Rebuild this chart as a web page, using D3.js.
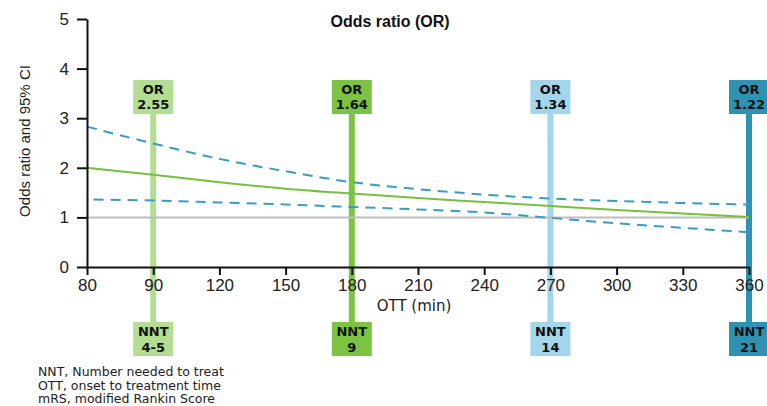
<!DOCTYPE html>
<html>
<head>
<meta charset="utf-8">
<title>Odds ratio (OR)</title>
<script src="https://d3js.org/d3.v7.min.js"></script>
<style>
body { margin: 0; background: #fff; }
svg { font-family: "Liberation Sans", Arial, sans-serif; }
.axis path, .axis line { stroke: #111; stroke-width: 2px; }
.axis text { font-size: 17px; fill: #222; }
.box text { font-family: "DejaVu Sans", sans-serif; font-size: 13px; font-weight: bold; fill: #111; }
</style>
</head>
<body>
<svg width="767" height="406"></svg>
<script>
// tick values on the OTT axis (evenly spaced, not proportional)
var xTicks = [80, 90, 120, 150, 180, 210, 240, 270, 300, 330, 360];
var yTicks = [0, 1, 2, 3, 4, 5];

// OR curve and 95% CI bounds
var orX = [80, 90, 120, 150, 180, 210, 240, 270, 300, 330, 360];
var orVal = [2.00, 1.86, 1.71, 1.58, 1.48, 1.39, 1.31, 1.23, 1.15, 1.08, 1.01];
var upperX = [80, 90, 120, 150, 180, 210, 240, 270, 300, 330, 360];
var upperVal = [2.83, 2.49, 2.18, 1.93, 1.71, 1.57, 1.46, 1.38, 1.33, 1.29, 1.26];
var lowerX = [81, 90, 120, 150, 180, 210, 240, 270, 300, 330, 360];
var lowerVal = [1.36, 1.34, 1.30, 1.26, 1.21, 1.16, 1.10, 0.99, 0.88, 0.79, 0.70];

// highlighted time points
var markTimes = [90, 180, 270, 360];
var markOR = ["2.55", "1.64", "1.34", "1.22"];
var markNNT = ["4-5", "9", "14", "21"];
var markColors = ["#b2dd92", "#7cc243", "#a3d6ea", "#2e92b3"];

var notes = [
  "NNT, Number needed to treat",
  "OTT, onset to treatment time",
  "mRS, modified Rankin Score"
];

var svg = d3.select("svg"),
    margin = {top: 19, left: 87},
    width = 662,
    height = 248,
    g = svg.append("g").attr("transform", "translate(" + margin.left + "," + margin.top + ")");

var step = width / (xTicks.length - 1);
var x = d3.scaleLinear()
    .domain(xTicks)
    .range(xTicks.map(function(d, i) { return i * step; }));

var y = d3.scaleLinear()
    .domain([0, 5])
    .range([height, 0]);

// title
svg.append("text")
    .attr("x", 390)
    .attr("y", 27)
    .attr("text-anchor", "middle")
    .style("font-size", "16px")
    .style("font-weight", "bold")
    .style("fill", "#111")
    .text("Odds ratio (OR)");

// vertical marker bars
var boxW = 40, boxTop = 61, boxH = 34, nntTop = 303, nntH = 34;
markTimes.forEach(function(t, i) {
  g.append("line")
      .attr("x1", x(t)).attr("x2", x(t))
      .attr("y1", boxTop).attr("y2", nntTop)
      .attr("stroke", markColors[i])
      .attr("stroke-width", 6);
});

// reference line at OR = 1
g.append("line")
    .attr("x1", 0).attr("x2", width)
    .attr("y1", y(1)).attr("y2", y(1))
    .attr("stroke", "#bdbdbd")
    .attr("stroke-width", 2);

var line = d3.line()
    .x(function(d) { return x(d[0]); })
    .y(function(d) { return y(d[1]); })
    .curve(d3.curveMonotoneX);

// CI bounds
[[upperX, upperVal], [lowerX, lowerVal]].forEach(function(s) {
  g.append("path")
      .datum(d3.zip(s[0], s[1]))
      .attr("fill", "none")
      .attr("stroke", "#3a9bc3")
      .attr("stroke-width", 2)
      .attr("stroke-dasharray", "10,7")
      .attr("d", line);
});

// OR curve
g.append("path")
    .datum(d3.zip(orX, orVal))
    .attr("fill", "none")
    .attr("stroke", "#76bf3f")
    .attr("stroke-width", 2)
    .attr("d", line);

// axes
g.append("g")
    .attr("class", "axis")
    .attr("transform", "translate(0," + height + ")")
    .call(d3.axisBottom(x).tickValues(xTicks).tickSize(8).tickPadding(4).tickSizeOuter(0).tickFormat(d3.format("d")));

g.append("g")
    .attr("class", "axis")
    .call(d3.axisLeft(y).tickValues(yTicks).tickSize(10).tickPadding(8).tickSizeOuter(0).tickFormat(d3.format("d")));

// axis titles
svg.append("text")
    .attr("transform", "translate(30," + 141 + ") rotate(-90)")
    .attr("text-anchor", "middle")
    .style("font-size", "15px")
    .style("fill", "#222")
    .text("Odds ratio and 95% CI");

svg.append("text")
    .attr("x", 414)
    .attr("y", 311)
    .attr("text-anchor", "middle")
    .style("font-family", "'DejaVu Sans', sans-serif")
    .style("font-size", "15px")
    .style("fill", "#222")
    .text("OTT (min)");

// OR and NNT boxes
markTimes.forEach(function(t, i) {
  var cx = x(t);
  var top = g.append("g").attr("class", "box").attr("transform", "translate(" + cx + "," + boxTop + ")");
  top.append("rect")
      .attr("x", -boxW / 2).attr("width", boxW).attr("height", boxH)
      .attr("fill", markColors[i]);
  top.append("text").attr("y", 14).attr("text-anchor", "middle").text("OR");
  top.append("text").attr("y", 29).attr("text-anchor", "middle").text(markOR[i]);

  var bot = g.append("g").attr("class", "box").attr("transform", "translate(" + cx + "," + nntTop + ")");
  bot.append("rect")
      .attr("x", -boxW / 2).attr("width", boxW).attr("height", nntH)
      .attr("fill", markColors[i]);
  bot.append("text").attr("y", 14).attr("text-anchor", "middle").text("NNT");
  bot.append("text").attr("y", 30).attr("text-anchor", "middle").text(markNNT[i]);
});

// footnotes
svg.selectAll(".note")
    .data(notes)
  .enter().append("text")
    .attr("class", "note")
    .attr("x", 38)
    .attr("y", function(d, i) { return 376 + i * 13.5; })
    .style("font-family", "'DejaVu Sans', sans-serif")
    .style("font-size", "12.5px")
    .style("fill", "#222")
    .text(function(d) { return d; });
</script>
</body>
</html>
